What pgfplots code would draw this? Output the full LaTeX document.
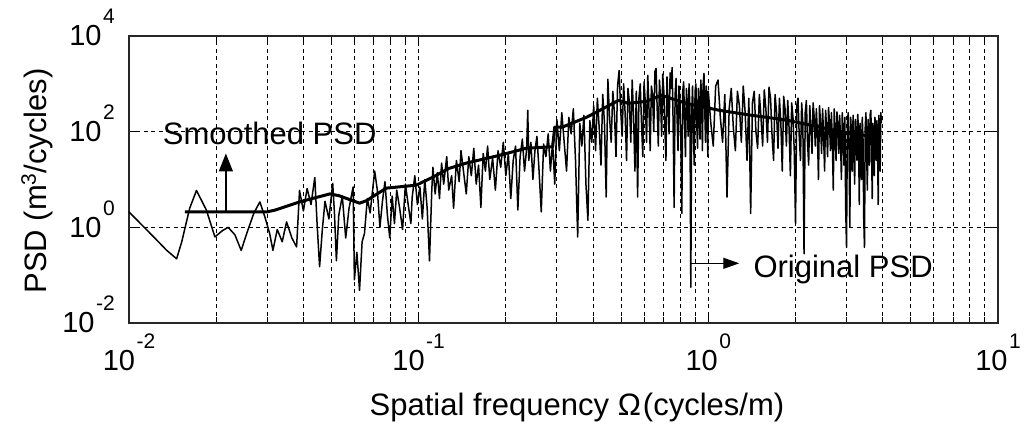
\documentclass[border=0pt]{standalone}
\usepackage{fontspec}
\setmainfont{Liberation Sans}
\usepackage{pgfplots}
\usepackage{pgfplotstable}
\pgfplotsset{compat=1.18}
\usetikzlibrary{arrows.meta}
\newcommand{\ex}[1]{10\hspace{1.5pt}\raisebox{22pt}[0pt][0pt]{\fontsize{21}{21}\selectfont #1}}

\pgfplotstableread{
x y
0.0100 2.1
0.0123 0.59
0.0135 0.33
0.0146 0.22
0.0152 0.49
0.0162 2.5
0.0171 5.9
0.0185 2.3
0.0198 0.63
0.0210 0.85
0.0220 1.0
0.0232 0.7
0.0244 0.33
0.0256 0.8
0.0270 2.0
0.0283 3.4
0.0295 1.6
0.0306 0.74
0.0314 0.33
0.0325 0.9
0.0338 0.5
0.0350 1.3
0.0365 0.6
0.0379 0.39
0.0388 5.9
0.0400 2.2
0.0412 6.5
0.0425 3.0
0.0438 11
0.0446 1.2
0.0455 0.15
0.0465 0.9
0.0475 3.5
0.0490 1.5
0.0505 8.3
0.0512 2.0
0.0520 0.2
0.0530 1.8
0.0545 4.5
0.0560 0.6
0.0575 2.5
0.0594 7.0
0.0600 0.08
0.0612 0.3
0.0625 0.048
0.0638 0.5
0.0650 0.74
0.0665 4.0
0.0680 2.0
0.0705 15
0.0720 6
0.0735 1.0
0.0750 3.5
0.0765 9.0
0.0780 1.8
0.0795 0.6
0.0810 4.5
0.0825 1.2
0.0840 6.0
0.0860 2.5
0.0880 0.9
0.0900 8.0
0.0920 3.0
0.0940 1.2
0.0950 4.3
0.0970 12
0.0990 3.0
0.1010 7.0
0.1030 1.5
0.1050 10
0.1070 2.5
0.1090 0.2
0.1110 6
0.1120 18
0.1140 5
0.1160 14
0.1180 4
0.1200 22
0.1220 8
0.1250 30
0.1270 6
0.1300 12
0.1320 2.5
0.1350 25
0.1380 9
0.1400 40
0.1430 14
0.1460 5
0.1490 30
0.1520 12
0.1550 45
0.1580 8
0.1610 20
0.1640 2.6
0.1670 35
0.1700 15
0.1730 50
0.1760 10
0.1800 28
0.1840 6
0.1880 40
0.1920 18
0.1960 60
0.2000 12
0.2040 35
0.2080 4
0.2120 25
0.2160 50
0.2200 2.3
0.2240 30
0.2280 70
0.2320 15
0.2360 45
0.2380 280
0.2400 25
0.2440 60
0.2480 10
0.2520 40
0.2560 80
0.2600 18
0.2650 2.1
0.2700 55
0.2750 30
0.2800 90
0.2850 15
0.2900 60
0.2950 8
0.300 180
0.306 40
0.312 250
0.318 60
0.324 15
0.330 200
0.336 90
0.342 300
0.348 25
0.354 0.63
0.360 150
0.366 50
0.372 220
0.378 8
0.384 1.4
0.390 170
0.396 60
0.402 350
0.408 40
0.414 500
0.420 120
0.426 20
0.432 600
0.438 150
0.444 4.3
0.450 1250
0.456 200
0.462 60
0.468 700
0.474 250
0.480 30
0.486 900
0.492 1900
0.498 300
0.504 80
0.510 1000
0.516 250
0.522 25
0.528 800
0.534 400
0.540 60
0.546 1200
0.552 200
0.558 15
0.564 700
0.570 4.3
0.576 500
0.582 1000
0.588 150
0.594 30
0.600 1100
0.606 400
0.612 60
0.618 1500
0.624 300
0.630 40
0.636 900
0.642 600
0.648 100
0.654 1800
0.660 2100
0.666 300
0.672 50
0.678 1200
0.684 500
0.690 80
0.696 1600
0.702 700
0.708 120
0.714 25
0.720 1400
0.726 400
0.732 90
0.738 1700
0.744 800
0.750 2200
0.756 150
0.762 2.6
0.768 600
0.774 1300
0.780 200
0.786 40
0.792 900
0.798 500
0.804 60
0.810 1.95
0.816 700
0.822 1100
0.828 150
0.834 30
0.840 800
0.846 400
0.852 80
0.858 1000
0.864 300
0.870 0.056
0.876 200
0.882 900
0.888 120
0.894 20
0.900 700
0.906 1000
0.912 150
0.918 45
0.924 800
0.930 350
0.936 70
0.942 1200
0.948 500
0.954 40
0.960 1000
0.966 1650
0.972 300
0.978 60
0.984 900
0.990 400
0.996 30
1.00 700
1.02 150
1.04 50
1.06 900
1.08 1200
1.10 200
1.12 60
1.14 600
1.16 4.3
1.18 300
1.20 800
1.22 120
1.24 40
1.26 700
1.28 350
1.30 60
1.32 900
1.34 250
1.36 25
1.38 500
1.40 1.95
1.42 400
1.44 700
1.46 100
1.48 45
1.50 600
1.52 200
1.54 50
1.56 750
1.58 300
1.60 60
1.62 850
1.64 500
1.66 80
1.68 25
1.70 600
1.72 250
1.74 45
1.76 500
1.78 150
1.80 15
1.82 550
1.84 300
1.86 50
1.88 450
1.90 120
1.92 12
1.94 400
1.96 200
1.98 40
2.00 1.2
2.02 350
2.04 500
2.06 80
2.08 25
2.10 400
2.12 150
2.14 0.28
2.16 250
2.18 450
2.20 60
2.22 20
2.24 350
2.26 120
2.28 35
2.30 400
2.32 200
2.34 50
2.36 300
2.38 90
2.40 10
2.42 350
2.44 150
2.46 35
2.48 300
2.50 80
2.52 15
2.54 280
2.56 120
2.58 30
2.60 320
2.62 150
2.64 40
2.66 250
2.68 60
2.70 6
2.72 300
2.74 100
2.76 25
2.78 260
2.80 130
2.82 35
2.84 220
2.86 70
2.88 10
2.90 250
2.92 100
2.94 20
2.96 200
2.98 2.5
3.00 0.38
3.02 150
3.04 250
3.06 40
3.08 1.0
3.10 200
3.12 90
3.14 15
3.16 220
3.18 60
3.20 8
3.22 180
3.24 80
3.26 25
3.28 230
3.30 100
3.32 3
3.34 150
3.36 50
3.38 10
3.40 200
3.42 70
3.44 1.5
3.46 0.38
3.48 120
3.50 250
3.52 40
3.54 6
3.56 180
3.58 90
3.60 20
3.62 230
3.64 280
3.66 50
3.68 4
3.70 150
3.72 60
3.74 12
3.76 200
3.78 100
3.80 25
3.82 170
3.84 40
3.86 3
3.88 220
3.90 80
3.92 15
3.94 250
3.96 150
}\originalpsd

\pgfplotstableread{
x y
0.0156 2.1
0.0299 2.1
0.0320 2.3
0.0388 3.4
0.0494 5.0
0.0530 4.6
0.0625 3.2
0.0660 3.6
0.0773 6.6
0.0980 7.6
0.112 11.2
0.127 17
0.146 22
0.190 32
0.235 45
0.283 48
0.290 48
0.295 125
0.314 125
0.380 200
0.490 450
0.530 390
0.610 430
0.690 575
0.840 390
1.09 280
1.41 220
1.86 175
2.41 125
3.10 91
3.95 76
}\smoothedpsd

\begin{document}
\begin{tikzpicture}
\path[use as bounding box] (-129pt,-105pt) rectangle (895pt,323pt);
\begin{axis}[
  at={(0pt,0pt)}, anchor=south west,
  scale only axis, width=869pt, height=287pt,
  xmode=log, ymode=log,
  xmin=0.01, xmax=10, ymin=0.01, ymax=10000,
  xtick={0.01,0.1,1,10},
  xticklabels={\ex{-2},\ex{-1},\ex{0},\ex{1}},
  minor xtick={0.02,0.03,0.04,0.05,0.06,0.07,0.08,0.09,0.2,0.3,0.4,0.5,0.6,0.7,0.8,0.9,2,3,4,5,6,7,8,9},
  ytick={0.01,1,100,10000},
  yticklabels={\ex{-2},\ex{0},\ex{2},\ex{4}},
  yminorticks=false,
  xmajorgrids, xminorgrids, ymajorgrids,
  major grid style={black, line width=1pt, dash pattern=on 4pt off 3.5pt},
  minor grid style={black, line width=1pt, dash pattern=on 4pt off 3.5pt},
  tick align=inside,
  major tick length=10pt, minor tick length=6pt,
  tick style={black, line width=1pt},
  axis line style={black!85, line width=1.3pt},
  ticklabel style={font=\fontsize{29}{29}\selectfont},
  xticklabel style={anchor=north, inner sep=0pt, yshift=-27pt},
  yticklabel style={anchor=east, inner sep=0pt, xshift=-14pt},
  xlabel={Spatial frequency Ω\hspace{2pt}(cycles/m)},
  ylabel={PSD (m\raisebox{11pt}{\fontsize{21}{21}\selectfont 3}/cycles)},
  label style={font=\fontsize{31}{31}\selectfont},
  xlabel style={at={(rel axis cs:0.5155,-0.3206)}, anchor=base},
  ylabel style={at={(rel axis cs:-0.0944,0.495)}, anchor=base},
  clip=false,
]
\addplot[black, line width=1.5pt, line join=round] table[x=x,y=y] {\originalpsd};
\addplot[black, line width=3pt, line join=round] table[x=x,y=y] {\smoothedpsd};
\draw[black, line width=1.3pt, -{Triangle[length=18pt,width=14pt]}] (axis cs:0.0216,2.1) -- (axis cs:0.0216,35);
\node[anchor=base, inner sep=0pt, font=\fontsize{31}{31}\selectfont] at (axis cs:0.0306,54.5) {Smoothed PSD};
\draw[black, line width=1.1pt, -{Triangle[length=16pt,width=11pt]}] (axis cs:0.874,0.177) -- (axis cs:1.279,0.177);
\node[anchor=base, inner sep=0pt, font=\fontsize{31}{31}\selectfont] at (axis cs:2.92,0.09) {Original PSD};
\end{axis}
\end{tikzpicture}
\end{document}
